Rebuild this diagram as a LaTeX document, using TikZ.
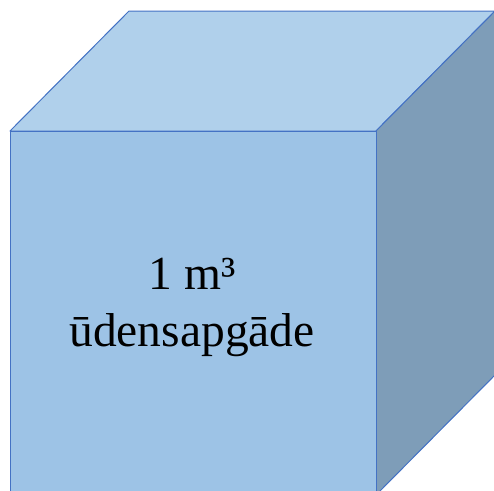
\documentclass[tikz,border=0pt]{standalone}
\usepackage{fontspec}
\setmainfont{Liberation Serif}
\usetikzlibrary{positioning}
\definecolor{FrontBlue}{RGB}{157,195,230}
\definecolor{TopBlue}{RGB}{176,208,235}
\definecolor{SideBlue}{RGB}{126,157,184}
\definecolor{EdgeBlue}{RGB}{68,114,196}

\begin{document}
\begin{tikzpicture}[x=1pt, y=-1pt,
    face/.style={draw=EdgeBlue, line width=1pt, line join=round}]
    \useasboundingbox (0,0) rectangle (494,490);
    \clip (0,0) rectangle (494,490);
    % corners of the cube
    \coordinate (ftl) at (10,131);
    \coordinate (ftr) at (376,131);
    \coordinate (fbr) at (376,495);
    \coordinate (fbl) at (10,495);
    \coordinate (btl) at (129,11);
    \coordinate (btr) at (495,11);
    \coordinate (bbr) at (495,375);
    \filldraw[face, fill=TopBlue] (ftl) -- (btl) -- (btr) -- (ftr) -- cycle;
    \filldraw[face, fill=SideBlue] (ftr) -- (btr) -- (bbr) -- (fbr) -- cycle;
    \filldraw[face, fill=FrontBlue] (ftl) -- (ftr) -- (fbr) -- (fbl) -- cycle;
    \node[align=center, font=\fontsize{47.5}{57}\selectfont] (volume) at (192,307) {1 m³\\ūdensapgāde};
  \end{tikzpicture}
\end{document}
